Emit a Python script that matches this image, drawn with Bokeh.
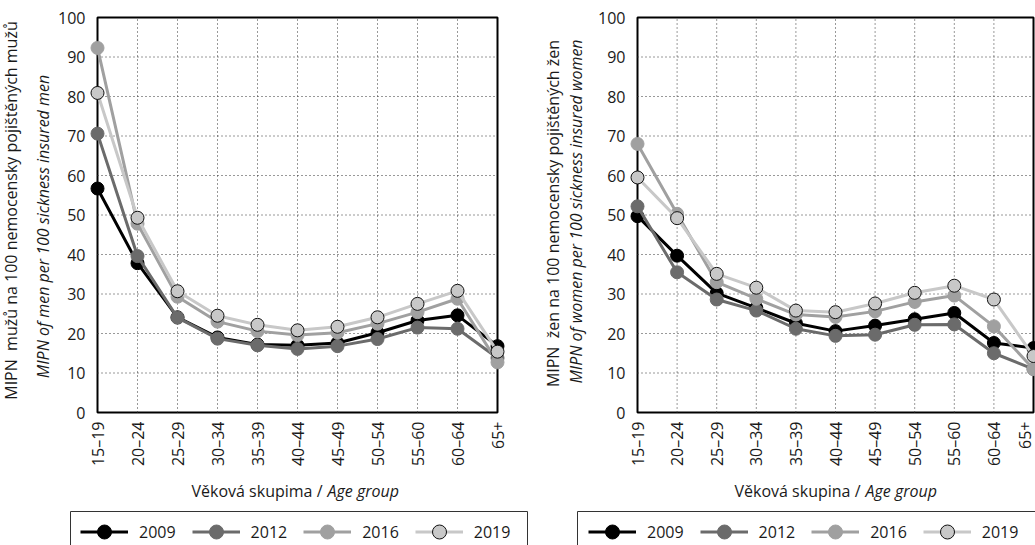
import math
from bokeh.plotting import figure
from bokeh.layouts import row
from bokeh.models import Range1d, FixedTicker, BoxAnnotation, Label, Legend, LegendItem
from bokeh.embed import file_html
from bokeh.resources import INLINE

# ---------------- data ----------------
categories = ["15–19", "20–24", "25–29", "30–34", "35–39", "40–44",
              "45–49", "50–54", "55–60", "60–64", "65+"]
years = ["2009", "2012", "2016", "2019"]

men_2009 = [56.7, 37.8, 24.1, 19.0, 17.2, 17.0, 17.6, 20.2, 23.3, 24.6, 16.8]
men_2012 = [70.6, 39.6, 24.0, 18.7, 17.0, 16.1, 16.8, 18.6, 21.5, 21.2, 13.8]
men_2016 = [92.3, 47.8, 29.3, 23.0, 20.6, 19.6, 20.2, 22.5, 25.4, 28.8, 12.7]
men_2019 = [80.9, 49.3, 30.7, 24.5, 22.2, 20.8, 21.7, 24.1, 27.5, 30.8, 15.4]

women_2009 = [49.7, 39.7, 30.2, 26.5, 22.6, 20.6, 22.0, 23.6, 25.2, 17.6, 16.3]
women_2012 = [52.2, 35.5, 28.6, 25.8, 21.2, 19.4, 19.7, 22.2, 22.3, 15.0, 11.0]
women_2016 = [68.0, 50.3, 33.0, 28.8, 24.8, 24.2, 25.6, 28.0, 29.6, 21.8, 11.0]
women_2019 = [59.5, 49.2, 35.1, 31.6, 25.8, 25.4, 27.6, 30.3, 32.1, 28.6, 14.3]

y_ticks = [0, 10, 20, 30, 40, 50, 60, 70, 80, 90, 100]

FONT = "Open Sans"
TEXT = "#1a1a1a"
COLORS = {"2009": "#000000", "2012": "#6b6b6b", "2016": "#a0a0a0", "2019": "#c8c8c8"}
OUTLINE = {"2009": "#000000", "2012": "#6b6b6b", "2016": "#a0a0a0", "2019": "#111111"}

H = 545          # canvas height
Y0_PX = 412      # pixel row of value 0
Y100_PX = 17     # pixel row of value 100
YS = (Y0_PX - Y100_PX) / 100.0

LEG_PAD = 4
LEG_GLYPH_H = 35
LEG_TOP = 506


def make_chart(series, y_title, y_title_it, x_title, x_title_it, *,
               width, x0_px, x10_px, title_px, title_it_px, title_py, title_it_py,
               split_px, it_px, legend_x, box_left_px, box_right_px):
    xs_scale = (x10_px - x0_px) / 10.0
    def dx(px):
        return (px - x0_px) / xs_scale
    def dy(py):
        return (Y0_PX - py) / YS

    p = figure(width=width, height=H,
               x_range=Range1d(dx(0), dx(width)), y_range=Range1d(dy(H), dy(0)),
               min_border=0, output_backend="svg", toolbar_location=None)
    p.title.visible = False
    p.outline_line_color = None
    p.xgrid.visible = False
    p.ygrid.visible = False
    p.background_fill_color = "white"
    p.border_fill_color = "white"

    n = len(categories)
    xs = list(range(n))

    # axes fixed at the chart's own origin
    p.xaxis.fixed_location = y_ticks[0]
    p.yaxis.fixed_location = xs[0]
    p.xaxis.ticker = FixedTicker(ticks=xs)
    p.xaxis.major_label_overrides = {i: c for i, c in enumerate(categories)}
    p.xaxis.major_label_orientation = math.pi / 2
    p.yaxis.ticker = FixedTicker(ticks=y_ticks)
    p.xaxis.bounds = (xs[0], xs[-1])
    p.yaxis.bounds = (y_ticks[0], y_ticks[-1])
    for ax in (p.xaxis, p.yaxis):
        ax.axis_line_color = None
        ax.major_tick_line_color = None
        ax.minor_tick_line_color = None
        ax.major_tick_out = 0
        ax.major_tick_in = 0
        ax.minor_tick_out = 0
        ax.minor_tick_in = 0
        ax.major_label_text_font = FONT
        ax.major_label_text_font_size = "16px"
        ax.major_label_text_color = TEXT
    p.xaxis.major_label_standoff = 9
    p.yaxis.major_label_standoff = 12

    # dotted grid, limited to the chart box
    gy = y_ticks[1:-1]
    p.segment(x0=[xs[0]] * len(gy), x1=[xs[-1]] * len(gy), y0=gy, y1=gy,
              line_color="#333333", line_width=1, line_dash="1 3")
    gx = xs[1:-1]
    p.segment(x0=gx, x1=gx, y0=[y_ticks[0]] * len(gx), y1=[y_ticks[-1]] * len(gx),
              line_color="#333333", line_width=1, line_dash="1 3")

    # chart box
    p.add_layout(BoxAnnotation(left=xs[0], right=xs[-1], bottom=y_ticks[0], top=y_ticks[-1],
                               fill_color=None, fill_alpha=0, line_color="black",
                               line_alpha=1, line_width=2, level="underlay"))

    items = []
    for yr, vals in zip(years, series):
        lr = p.line(xs, vals, line_color=COLORS[yr], line_width=3)
        sr = p.scatter(xs, vals, size=13, marker="circle", fill_color=COLORS[yr],
                       line_color=OUTLINE[yr], line_width=1)
        items.append(LegendItem(label=yr, renderers=[lr, sr]))

    # legend frame (open at the bottom, as in the original)
    p.add_layout(BoxAnnotation(left=dx(box_left_px), right=dx(box_right_px),
                               top=dy(511), bottom=dy(H + 40),
                               fill_color="white", fill_alpha=1, line_color="#333333",
                               line_alpha=1, line_width=1, level="annotation"))
    leg_h = 2 * LEG_PAD + LEG_GLYPH_H
    legend = Legend(items=items, location=(legend_x, H - LEG_TOP - leg_h),
                    orientation="horizontal",
                    glyph_width=48, glyph_height=LEG_GLYPH_H, label_standoff=11, spacing=16,
                    padding=LEG_PAD, margin=0, border_line_color=None,
                    label_text_font=FONT, label_text_font_size="16px",
                    label_text_color=TEXT, background_fill_alpha=0)
    p.add_layout(legend)

    # y-axis titles (regular + italic line)
    p.add_layout(Label(x=dx(title_px), y=dy(title_py), text=y_title, angle=math.pi / 2,
                       text_align="center", text_baseline="middle",
                       text_font=FONT, text_font_size="16px", text_color=TEXT))
    p.add_layout(Label(x=dx(title_it_px), y=dy(title_it_py), text=y_title_it,
                       angle=math.pi / 2, text_align="center", text_baseline="middle",
                       text_font=FONT, text_font_size="16px", text_font_style="italic",
                       text_color=TEXT))
    # x-axis title (regular + italic part)
    p.add_layout(Label(x=dx(split_px), y=dy(490), text=x_title,
                       text_align="right", text_baseline="middle",
                       text_font=FONT, text_font_size="16px", text_color=TEXT))
    p.add_layout(Label(x=dx(it_px), y=dy(490), text=x_title_it,
                       text_align="left", text_baseline="middle",
                       text_font=FONT, text_font_size="16px", text_font_style="italic",
                       text_color=TEXT))
    return p


left = make_chart([men_2009, men_2012, men_2016, men_2019],
                  "MIPN\u00a0 mužů na 100 nemocensky pojištěných mužů",
                  "MIPN of men per 100 sickness insured men",
                  "Věková skupima /", "Age group",
                  width=540, x0_px=97, x10_px=497,
                  title_px=10, title_it_px=42, title_py=210, title_it_py=226,
                  split_px=322, it_px=327,
                  legend_x=80, box_left_px=70, box_right_px=527)

right = make_chart([women_2009, women_2012, women_2016, women_2019],
                   "MIPN\u00a0 žen na 100 nemocensky pojištěných žen",
                   "MIPN of women per 100 sickness insured women",
                   "Věková skupina /", "Age group",
                   width=495, x0_px=97, x10_px=493,
                   title_px=12, title_it_px=35, title_py=213, title_it_py=211,
                   split_px=320, it_px=325,
                   legend_x=48, box_left_px=37, box_right_px=540)

layout = row(left, right)
open("out.html", "w").write(file_html(layout, INLINE))
